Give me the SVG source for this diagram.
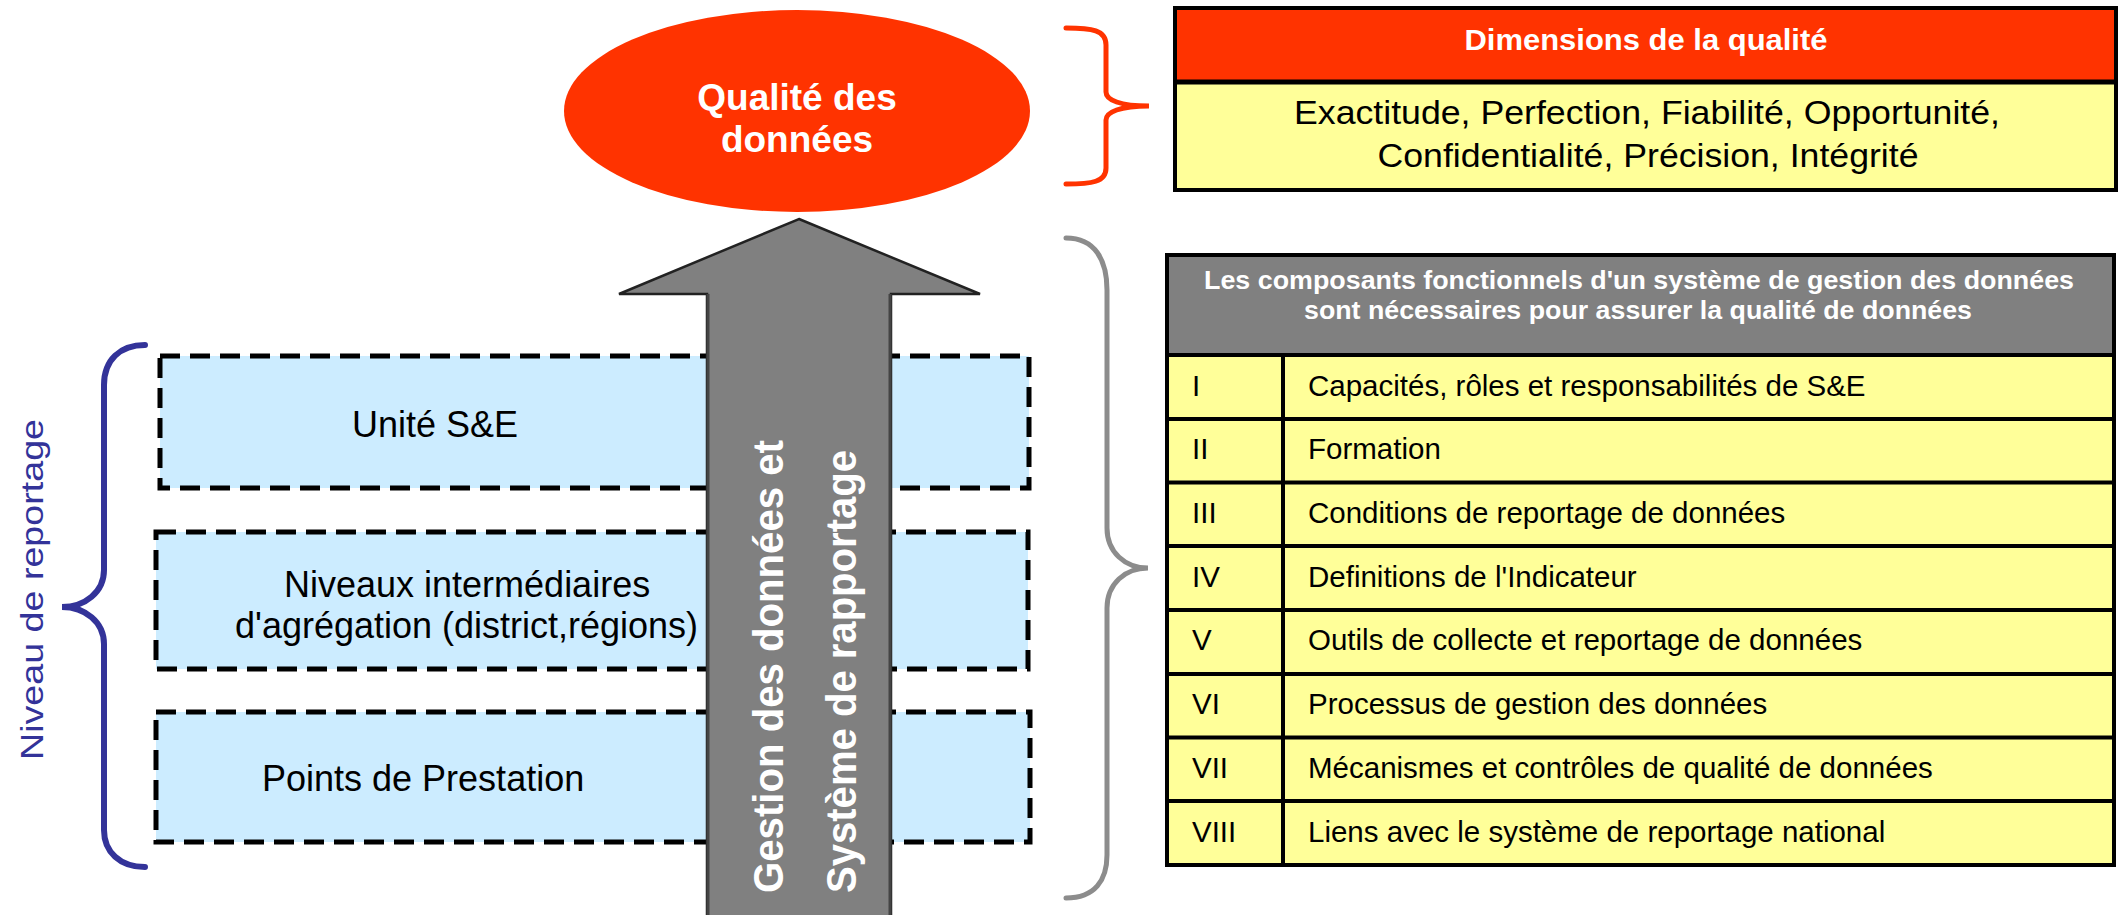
<svg xmlns="http://www.w3.org/2000/svg" width="2121" height="915" viewBox="0 0 2121 915">
<style>
text{font-family:"Liberation Sans",Arial,sans-serif}
.box{fill:#CCECFF;stroke:#000;stroke-width:5;stroke-dasharray:20 10}
.bt{font-size:36px;fill:#000}
.rt{font-size:29.5px;fill:#000}
.wb{font-weight:bold;fill:#fff}
.grid{stroke:#000;stroke-width:4;fill:none}
.brace{fill:none;stroke-linecap:round}
</style>
<rect width="2121" height="915" fill="#fff"/>
<g id="levels">
<g id="box-unite"><rect class="box" x="160" y="356" width="869" height="132"/><text class="bt" x="352" y="437">Unité S&amp;E</text></g>
<g id="box-niveaux"><rect class="box" x="156" y="532" width="872" height="137"/><text class="bt" x="284" y="597">Niveaux intermédiaires</text><text class="bt" x="235" y="638">d'agrégation (district,régions)</text></g>
<g id="box-points"><rect class="box" x="156" y="712" width="874" height="130"/><text class="bt" x="262" y="791">Points de Prestation</text></g>
</g>
<g id="arrow">
<polygon points="799,219 980,294 891,294 891,920 707,920 707,294 619,294" fill="#808080" stroke="#222" stroke-width="2.5" stroke-linejoin="miter"/>
<line x1="708" y1="294" x2="708" y2="915" stroke="#444" stroke-width="3"/>
<line x1="890" y1="294" x2="890" y2="915" stroke="#444" stroke-width="3"/>
<text class="wb" font-size="43" transform="translate(783,893) rotate(-90)" textLength="453" lengthAdjust="spacingAndGlyphs">Gestion des données et</text>
<text class="wb" font-size="43" transform="translate(856,893) rotate(-90)" textLength="443" lengthAdjust="spacingAndGlyphs">Système de rapportage</text>
</g>
<g id="quality">
<ellipse cx="797" cy="111" rx="233" ry="101" fill="#FF3300"/>
<text class="wb" font-size="37" x="797" y="110" text-anchor="middle">Qualité des</text>
<text class="wb" font-size="37" x="797" y="152" text-anchor="middle">données</text>
</g>
<g id="reporting-label">
<path class="brace" d="M145,345 C120,345 104,360 104,385 L104,570 C104,592 85,607 62,607 C85,607 104,622 104,644 L104,830 C104,852 120,867 145,867" stroke="#333399" stroke-width="6"/>
<text font-size="32" fill="#333399" transform="translate(43,760) rotate(-90)" textLength="341" lengthAdjust="spacingAndGlyphs">Niveau de reportage</text>
</g>
<g id="connectors">
<path class="brace" d="M1066,28 C1092,28 1106,30 1106,45 L1106,92 C1106,100 1120,106 1149,106 C1120,106 1106,112 1106,120 L1106,168 C1106,182 1092,184 1066,184" stroke="#FF3300" stroke-width="5"/>
<path class="brace" d="M1066,238 C1095,238 1107,260 1107,290 L1107,528 C1107,552 1125,568 1148,568 C1125,568 1107,584 1107,608 L1107,855 C1107,880 1095,898 1066,898" stroke="#8C8C8C" stroke-width="5"/>
</g>
<g id="dimensions">
<rect x="1175" y="8" width="941" height="74" fill="#FF3300"/>
<rect x="1175" y="82" width="941" height="108" fill="#FFFF99"/>
<rect class="grid" x="1175" y="8" width="941" height="182" stroke-width="5"/>
<line x1="1175" y1="82" x2="2116" y2="82" stroke="#000" stroke-width="5"/>
<text class="wb" font-size="29" x="1646" y="50" text-anchor="middle" textLength="363" lengthAdjust="spacingAndGlyphs">Dimensions de la qualité</text>
<text font-size="34" x="1647" y="124" text-anchor="middle" textLength="706" lengthAdjust="spacingAndGlyphs">Exactitude, Perfection, Fiabilité, Opportunité,</text>
<text font-size="34" x="1648" y="167" text-anchor="middle" textLength="541" lengthAdjust="spacingAndGlyphs">Confidentialité, Précision, Intégrité</text>
</g>
<g id="components">
<rect x="1167" y="255" width="947" height="100" fill="#808080"/>
<rect x="1167" y="355" width="947" height="510" fill="#FFFF99"/>
<rect class="grid" x="1167" y="255" width="947" height="610"/>
<line class="grid" x1="1167" y1="355" x2="2114" y2="355"/>
<line class="grid" x1="1167" y1="419" x2="2114" y2="419"/>
<line class="grid" x1="1167" y1="482.5" x2="2114" y2="482.5"/>
<line class="grid" x1="1167" y1="546" x2="2114" y2="546"/>
<line class="grid" x1="1167" y1="610" x2="2114" y2="610"/>
<line class="grid" x1="1167" y1="674" x2="2114" y2="674"/>
<line class="grid" x1="1167" y1="737.5" x2="2114" y2="737.5"/>
<line class="grid" x1="1167" y1="801" x2="2114" y2="801"/>
<line class="grid" x1="1283" y1="355" x2="1283" y2="865"/>
<text class="wb" font-size="25" x="1639" y="289" text-anchor="middle" textLength="870" lengthAdjust="spacingAndGlyphs">Les composants fonctionnels d'un système de gestion des données</text>
<text class="wb" font-size="25" x="1638" y="319" text-anchor="middle" textLength="668" lengthAdjust="spacingAndGlyphs">sont nécessaires pour assurer la qualité de données</text>
<g id="row1"><text class="rt" x="1192" y="396">I</text><text class="rt" x="1308" y="396">Capacités, rôles et responsabilités de S&amp;E</text></g>
<g id="row2"><text class="rt" x="1192" y="459">II</text><text class="rt" x="1308" y="459">Formation</text></g>
<g id="row3"><text class="rt" x="1192" y="523">III</text><text class="rt" x="1308" y="523">Conditions de reportage de données</text></g>
<g id="row4"><text class="rt" x="1192" y="587">IV</text><text class="rt" x="1308" y="587">Definitions de l'Indicateur</text></g>
<g id="row5"><text class="rt" x="1192" y="650">V</text><text class="rt" x="1308" y="650">Outils de collecte et reportage de données</text></g>
<g id="row6"><text class="rt" x="1192" y="714">VI</text><text class="rt" x="1308" y="714">Processus de gestion des données</text></g>
<g id="row7"><text class="rt" x="1192" y="778">VII</text><text class="rt" x="1308" y="778">Mécanismes et contrôles de qualité de données</text></g>
<g id="row8"><text class="rt" x="1192" y="842">VIII</text><text class="rt" x="1308" y="842">Liens avec le système de reportage national</text></g>
</g>
</svg>
